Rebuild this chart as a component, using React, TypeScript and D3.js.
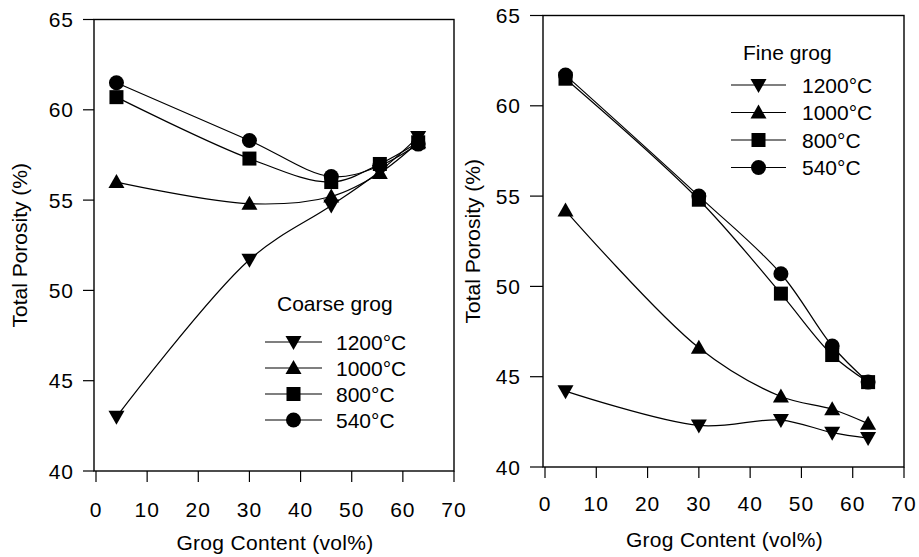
import React from "react";
import * as d3 from "d3";

const coarseX = [4, 30, 46, 55.5, 63];
const fineX = [4, 30, 46, 56, 63];
const temps = ["1200°C", "1000°C", "800°C", "540°C"];
const shapes = ["down", "up", "square", "circle"];

const coarse1200 = [43.0, 51.7, 54.7, 56.6, 58.5];
const coarse1000 = [56.0, 54.8, 55.2, 56.5, 58.2];
const coarse800 = [60.7, 57.3, 56.0, 57.0, 58.2];
const coarse540 = [61.5, 58.3, 56.3, 56.9, 58.1];

const fine1200 = [44.2, 42.3, 42.6, 41.9, 41.6];
const fine1000 = [54.2, 46.6, 43.9, 43.2, 42.4];
const fine800 = [61.5, 54.8, 49.6, 46.2, 44.7];
const fine540 = [61.7, 55.0, 50.7, 46.7, 44.7];

const xTicks = [0, 10, 20, 30, 40, 50, 60, 70];
const yTicks = [40, 45, 50, 55, 60, 65];

const FONT = "'Liberation Sans', Arial, Helvetica, sans-serif";

function Marker({ shape, x, y }: { shape: string; x: number; y: number }) {
  if (shape === "circle") return <circle cx={x} cy={y} r={7.5} fill="#000" />;
  if (shape === "square")
    return <rect x={x - 7} y={y - 7} width={14} height={14} fill="#000" />;
  if (shape === "up")
    return <path d={`M${x},${y - 8}L${x + 8},${y + 6}L${x - 8},${y + 6}Z`} fill="#000" />;
  return <path d={`M${x},${y + 8}L${x + 8},${y - 6}L${x - 8},${y - 6}Z`} fill="#000" />;
}

type PanelProps = {
  xs: number[];
  series: number[][];
  x0: number;
  x1: number;
  yTop: number;
  yBot: number;
  tickLen: number;
  xLabelBase: number;
  titleY: number;
  yTitleX: number;
  legendTitle: string;
  legTitleX: number;
  legTitleY: number;
  legLineX0: number;
  legLineX1: number;
  legTextX: number;
  legY0: number;
  legDy: number;
};

function Panel(p: PanelProps) {
  const x = d3.scaleLinear().domain([0, 70]).range([p.x0, p.x1]);
  const y = d3.scaleLinear().domain([40, 65]).range([p.yBot, p.yTop]);
  const line = d3
    .line<number>()
    .x((_, i) => x(p.xs[i]))
    .y((d) => y(d))
    .curve(d3.curveCatmullRom.alpha(0.5));
  const left = p.x0 - 2;
  const legMid = (p.legLineX0 + p.legLineX1) / 2;
  return (
    <g fontFamily={FONT} fill="#000">
      <rect x={left} y={p.yTop} width={p.x1 - left} height={p.yBot - p.yTop} fill="none" stroke="#000" strokeWidth={1.4} />
      {yTicks.map((t) => (
        <g key={"y" + t}>
          <line x1={left - p.tickLen} x2={left} y1={y(t)} y2={y(t)} stroke="#000" strokeWidth={1.2} />
          <text x={left - p.tickLen - 9} y={y(t)} dy="0.36em" textAnchor="end" fontSize={21} letterSpacing={1}>
            {t}
          </text>
        </g>
      ))}
      {xTicks.map((t) => (
        <g key={"x" + t}>
          <line x1={x(t)} x2={x(t)} y1={p.yBot} y2={p.yBot + 11} stroke="#000" strokeWidth={1.2} />
          <text x={x(t)} y={p.xLabelBase} textAnchor="middle" fontSize={21} letterSpacing={1}>
            {t}
          </text>
        </g>
      ))}
      <text x={(p.x0 + p.x1) / 2} y={p.titleY} textAnchor="middle" fontSize={21} letterSpacing={0.3}>
        Grog Content (vol%)
      </text>
      <text
        transform={`translate(${p.yTitleX},${(p.yTop + p.yBot) / 2}) rotate(-90)`}
        dy="0.36em"
        textAnchor="middle"
        fontSize={21}
      >
        Total Porosity (%)
      </text>
      {p.series.map((s, si) => (
        <g key={"s" + si}>
          <path d={line(s) || ""} fill="none" stroke="#000" strokeWidth={1.2} />
          {s.map((v, i) => (
            <Marker key={i} shape={shapes[si]} x={x(p.xs[i])} y={y(v)} />
          ))}
        </g>
      ))}
      <text x={p.legTitleX} y={p.legTitleY} fontSize={21}>
        {p.legendTitle}
      </text>
      {temps.map((t, i) => {
        const ly = p.legY0 + i * p.legDy;
        return (
          <g key={"l" + i}>
            <line x1={p.legLineX0} x2={p.legLineX1} y1={ly} y2={ly} stroke="#000" strokeWidth={1.2} />
            <Marker shape={shapes[i]} x={legMid} y={ly} />
            <text x={p.legTextX} y={ly} dy="0.36em" fontSize={21}>
              {t}
            </text>
          </g>
        );
      })}
    </g>
  );
}

export default function App() {
  return (
    <svg
      width={919}
      height={557}
      style={{ position: "absolute", left: 0, top: 0, display: "block", background: "#fff" }}
    >
      <rect width={919} height={557} fill="#fff" />
      <Panel
        xs={coarseX}
        series={[coarse1200, coarse1000, coarse800, coarse540]}
        x0={96}
        x1={454}
        yTop={19.5}
        yBot={471}
        tickLen={11}
        xLabelBase={517}
        titleY={550}
        yTitleX={19}
        legendTitle="Coarse grog"
        legTitleX={277}
        legTitleY={311}
        legLineX0={265}
        legLineX1={322}
        legTextX={336}
        legY0={342}
        legDy={26}
      />
      <Panel
        xs={fineX}
        series={[fine1200, fine1000, fine800, fine540]}
        x0={545}
        x1={904}
        yTop={15.5}
        yBot={467}
        tickLen={13}
        xLabelBase={511}
        titleY={547}
        yTitleX={472}
        legendTitle="Fine grog"
        legTitleX={743}
        legTitleY={60}
        legLineX0={731}
        legLineX1={786}
        legTextX={802}
        legY0={85}
        legDy={27.5}
      />
    </svg>
  );
}
